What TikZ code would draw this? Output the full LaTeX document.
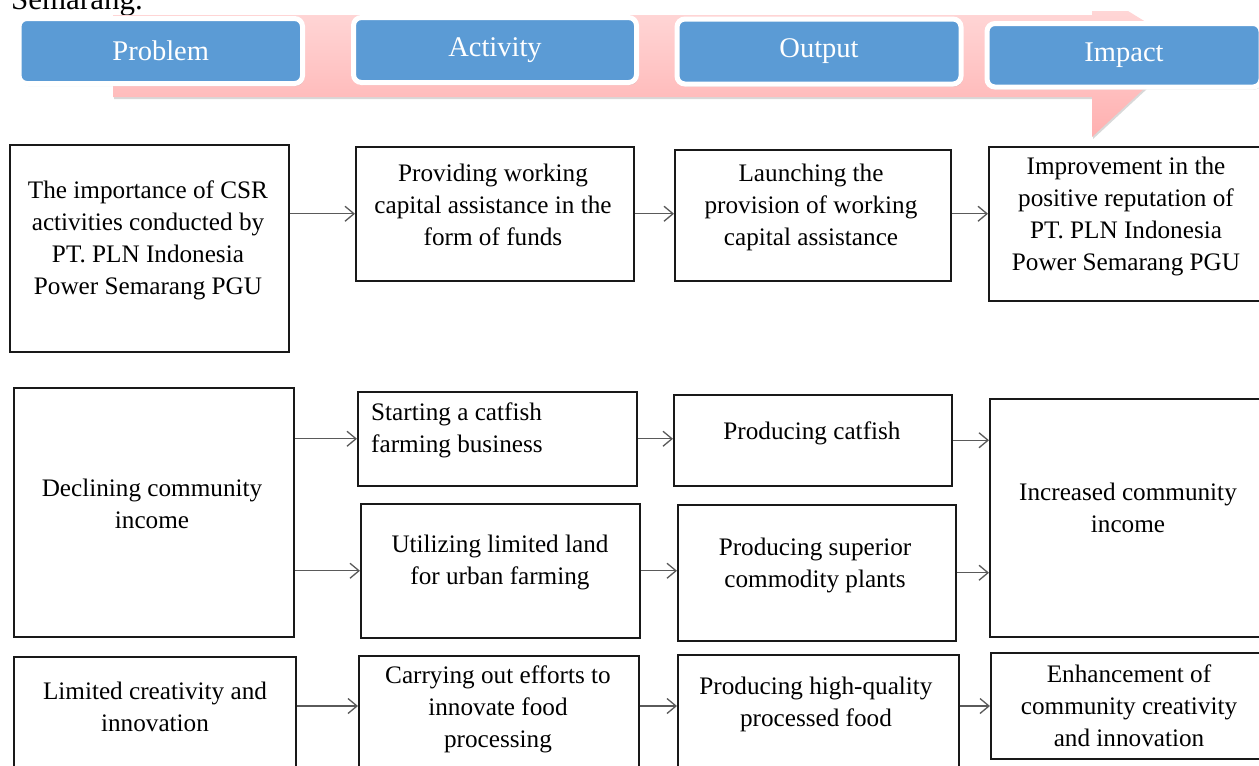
\documentclass[tikz,border=0pt]{standalone}
\usepackage{fontspec}
\setmainfont{Liberation Serif}
\usetikzlibrary{arrows.meta,shadows}
\definecolor{hdrblue}{RGB}{91,155,213}
\definecolor{pinkA}{RGB}{255,214,214}
\definecolor{pinkB}{RGB}{255,176,176}
\definecolor{arrgray}{RGB}{90,90,90}
\tikzset{
  box/.style={draw=black!90, line width=1.5pt, inner sep=0pt, fill=white, anchor=north west},
  hdr/.style={draw=white, line width=5pt, fill=hdrblue, rounded corners=8pt, inner sep=0pt,
    text=white, font=\fontsize{28.5}{34}\selectfont,
    drop shadow={opacity=0.25, shadow xshift=1.5pt, shadow yshift=-2.5pt}},
  txt/.style={align=center, inner sep=0pt, font=\fontsize{25.2}{32}\selectfont},
  link/.style={draw=arrgray, line width=1.4pt,
    -{Straight Barb[length=9pt,width=15pt,line width=1.3pt]}},
}
\begin{document}
\begin{tikzpicture}[x=1pt,y=-1pt]
\useasboundingbox (0,0) rectangle (1259,766);
\clip (0,0) rectangle (1259,766);
\fill[white] (0,0) rectangle (1259,766);

% cut-off caption text at the top
\node[anchor=base east, inner sep=0pt, font=\fontsize{31}{36}\selectfont] (sem) at (143,9) {Semarang.};

% header arrow
\path[top color=pinkA, bottom color=pinkB, drop shadow={opacity=0.3, shadow xshift=1pt, shadow yshift=-2pt}]
  (113,15) -- (1092,15) -- (1092,11) -- (1128,11) -- (1188,48) -- (1092,137) -- (1092,97) -- (113,97) -- cycle;

% header boxes
\node[hdr, minimum width=283.5pt, minimum height=65pt] (hP) at (160.75,51) {Problem};
\node[hdr, minimum width=283pt, minimum height=65pt] (hA) at (495,50) {Activity};
\node[hdr, minimum width=284pt, minimum height=65pt] (hO) at (819,51.5) {Output};
\node[hdr, minimum width=274pt, minimum height=63.5pt] (hI) at (1124,55.25) {Impact};

% row 1
\node[box, minimum width=279pt, minimum height=207pt] (A1) at (9,144) {};
\node[box, minimum width=278pt, minimum height=134pt] (B1) at (355,146) {};
\node[box, minimum width=276pt, minimum height=131pt] (C1) at (674,149) {};
\node[box, minimum width=274pt, minimum height=154pt] (D1) at (988,146) {};
% row 2
\node[box, minimum width=280pt, minimum height=249pt] (A2) at (13,387) {};
\node[box, minimum width=279pt, minimum height=94pt] (B2a) at (357,391) {};
\node[box, minimum width=279pt, minimum height=134pt] (B2b) at (360,503) {};
\node[box, minimum width=278pt, minimum height=91pt] (C2a) at (673,394) {};
\node[box, minimum width=278pt, minimum height=136pt] (C2b) at (677,504) {};
\node[box, minimum width=273pt, minimum height=238pt] (D2) at (989,398) {};
% row 3
\node[box, minimum width=282pt, minimum height=150pt] (A3) at (13,656) {};
\node[box, minimum width=280pt, minimum height=150pt] (B3) at (358,655) {};
\node[box, minimum width=281pt, minimum height=150pt] (C3) at (677,654) {};
\node[box, minimum width=272pt, minimum height=106pt] (D3) at (990,652) {};

% texts
\node[txt] (tA1) at (148,240) {The importance of CSR\\activities conducted by\\PT. PLN Indonesia\\Power Semarang PGU};
\node[txt] (tB1) at (493,204.5) {Providing working\\capital assistance in the\\form of funds};
\node[txt] (tC1) at (811,207.5) {Launching the\\provision of working\\capital assistance};
\node[txt] (tD1) at (1126,216) {Improvement in the\\positive reputation of\\PT. PLN Indonesia\\Power Semarang PGU};
\node[txt] (tA2) at (152,503.5) {Declining community\\income};
\node[txt, align=left, anchor=west] (tB2a) at (371,430) {Starting a catfish\\farming business};
\node[txt] (tB2b) at (500,562) {Utilizing limited land\\for urban farming};
\node[txt] (tC2a) at (812,433) {Producing catfish};
\node[txt] (tC2b) at (815,565.5) {Producing superior\\commodity plants};
\node[txt] (tD2) at (1128,507.5) {Increased community\\income};
\node[txt] (tA3) at (155,706.5) {Limited creativity and\\innovation};
\node[txt] (tB3) at (498,709) {Carrying out efforts to\\innovate food\\processing};
\node[txt] (tC3) at (816,704.5) {Producing high-quality\\processed food};
\node[txt] (tD3) at (1129,705.5) {Enhancement of\\community creativity\\and innovation};

% connectors
\coordinate (r3) at (0,706);
\draw[link] (A1.east |- B1.west) -- (B1.west);
\draw[link] (B1.east) -- (C1.west |- B1.east);
\draw[link] (C1.east |- B1.east) -- (D1.west |- B1.east);
\draw[link] (A2.east |- B2a.west) -- (B2a.west);
\draw[link] (A2.east |- B2b.west) -- (B2b.west);
\draw[link] (B2a.east) -- (C2a.west |- B2a.east);
\draw[link] (B2b.east) -- (C2b.west |- B2b.east);
\draw[link] (C2a.east) -- (D2.west |- C2a.east);
\draw[link] (C2b.east) -- (D2.west |- C2b.east);
\draw[link] (A3.east |- r3) -- (B3.west |- r3);
\draw[link] (B3.east |- r3) -- (C3.west |- r3);
\draw[link] (C3.east |- r3) -- (D3.west |- r3);
\end{tikzpicture}
\end{document}
